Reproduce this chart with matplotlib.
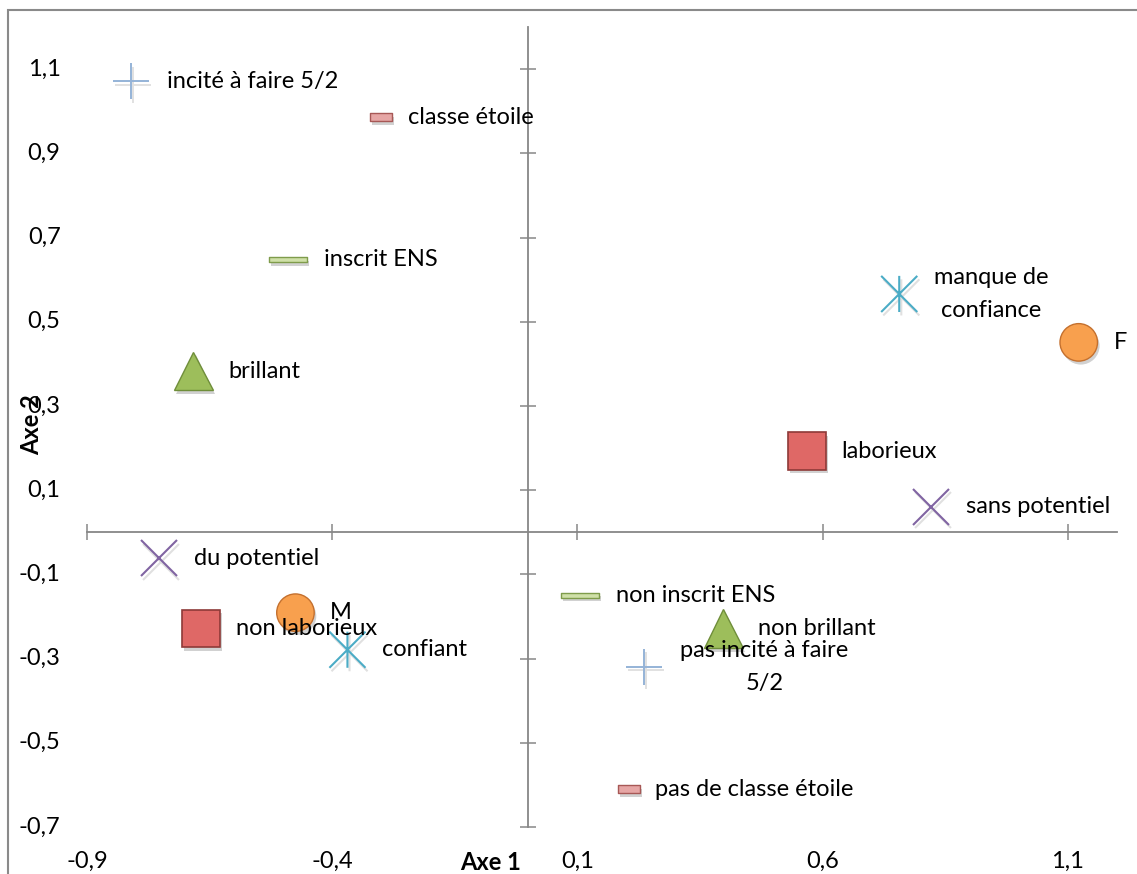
import matplotlib
matplotlib.use("Agg")
import matplotlib.pyplot as plt
import matplotlib.patheffects as pe
from matplotlib.path import Path
from matplotlib.patches import Rectangle
import numpy as np

plt.rcParams['font.family'] = ['Lato', 'DejaVu Sans']

# modalites et coordonnees sur les deux premiers axes
sexe_lab = ["F", "M"]
sexe_x = [1.122, -0.475]
sexe_y = [0.451, -0.191]

labor_lab = ["laborieux", "non laborieux"]
labor_x = [0.568, -0.668]
labor_y = [0.193, -0.229]

brill_lab = ["brillant", "non brillant"]
brill_x = [-0.683, 0.397]
brill_y = [0.383, -0.229]

pot_lab = ["du potentiel", "sans potentiel"]
pot_x = [-0.753, 0.821]
pot_y = [-0.062, 0.061]

conf_lab = ["confiant", "manque de\nconfiance"]
conf_x = [-0.369, 0.756]
conf_y = [-0.279, 0.566]

incite_lab = ["incité à faire 5/2", "pas incité à faire\n5/2"]
incite_x = [-0.810, 0.236]
incite_y = [1.071, -0.320]

etoile_lab = ["classe étoile", "pas de classe étoile"]
etoile_x = [-0.300, 0.205]
etoile_y = [0.986, -0.610]

ens_lab = ["inscrit ENS", "non inscrit ENS"]
ens_x = [-0.490, 0.105]
ens_y = [0.647, -0.150]

xticks = [-0.9, -0.4, 0.1, 0.6, 1.1]
yticks = [-0.7, -0.5, -0.3, -0.1, 0.1, 0.3, 0.5, 0.7, 0.9, 1.1]

FS = 17
W, H = 1137, 874
fig = plt.figure(figsize=(W / 100, H / 100), dpi=100)
ax = fig.add_axes([87 / W, 47 / H, 1030 / W, 800 / H])
ax.set_xlim(-0.9, 1.2)
ax.set_ylim(-0.7, 1.2)

# axes croisees en zero
for s in ["top", "right"]:
    ax.spines[s].set_visible(False)
ax.spines["left"].set_position(("data", 0))
ax.spines["bottom"].set_position(("data", 0))
for s in ["left", "bottom"]:
    ax.spines[s].set_color("#878787")
    ax.spines[s].set_linewidth(1.3)
ax.set_xticks(xticks)
ax.set_yticks(yticks)
ax.tick_params(direction="inout", length=12, width=1.1, color="#878787",
               labelbottom=False, labelleft=False)

def fmt(v):
    return ("%.1f" % v).replace(".", ",")

for t in xticks:
    ax.annotate(fmt(t), (t, 0), xycoords=("data", "axes fraction"), xytext=(0, -25),
                textcoords="offset points", ha="center", va="center", fontsize=FS)
for t in yticks:
    ax.annotate(fmt(t), (0, t), xycoords=("axes fraction", "data"), xytext=(-19, 0),
                textcoords="offset points", ha="right", va="center", fontsize=FS)

fig.text(491 / W, (H - 862) / H, "Axe 1", ha="center", va="center", fontsize=FS, fontweight="bold")
fig.text(32 / W, (H - 425) / H, "Axe 2", ha="center", va="center", fontsize=FS,
         fontweight="bold", rotation=90)

# cadre du graphique
fig.add_artist(Rectangle((8 / W, -0.1), 1.2, (H - 10) / H + 0.1, transform=fig.transFigure,
                         fill=False, edgecolor="#8a8a8a", linewidth=1.5))

star = Path([(0, -1), (0, 1), (-1, -1), (1, 1), (-1, 1), (1, -1)],
            [Path.MOVETO, Path.LINETO] * 3)
long_bar = Path([(-1, -0.13), (1, -0.13), (1, 0.13), (-1, 0.13), (-1, -0.13)], closed=True)
short_bar = Path([(-1, -0.36), (1, -0.36), (1, 0.36), (-1, 0.36), (-1, -0.36)], closed=True)

shadow = [pe.SimplePatchShadow(offset=(1.5, -2.5), shadow_rgbFace="#000000", alpha=0.18), pe.Normal()]
lshadow = [pe.SimpleLineShadow(offset=(1.5, -2.5), shadow_color="#000000", alpha=0.12), pe.Normal()]

series = [
    (sexe_lab, sexe_x, sexe_y, dict(marker="o", ms=27, mfc="#F8A04E", mec="#C4702E", mew=1.0), shadow, 25),
    (labor_lab, labor_x, labor_y, dict(marker="s", ms=27, mfc="#DF6866", mec="#8E3A38", mew=1.2), shadow, 25),
    (brill_lab, brill_x, brill_y, dict(marker="^", ms=28, mfc="#9DBE5B", mec="#6F8E3A", mew=1.0), shadow, 25),
    (pot_lab, pot_x, pot_y, dict(marker="x", ms=26, mec="#8064A2", mew=1.5), lshadow, 25),
    (conf_lab, conf_x, conf_y, dict(marker=star, ms=26, mec="#4BACC6", mew=1.5), lshadow, 25),
    (incite_lab, incite_x, incite_y, dict(marker="+", ms=26, mec="#95B3D7", mew=1.4), lshadow, 26),
    (etoile_lab, etoile_x, etoile_y, dict(marker=short_bar, ms=16, mfc="#E6A6A5", mec="#A75856", mew=1.0), shadow, 19),
    (ens_lab, ens_x, ens_y, dict(marker=long_bar, ms=27, mfc="#CFE0A8", mec="#7F9C4B", mew=1.0), shadow, 26),
]

for labs, xs, ys, style, effects, dx in series:
    ax.plot(xs, ys, linestyle="none", zorder=3, clip_on=False, path_effects=effects, **style)
    for lab, x, y in zip(labs, xs, ys):
        ax.annotate(lab, (x, y), xytext=(dx, 0), textcoords="offset points", ha="left",
                    va="center", multialignment="center", fontsize=FS, zorder=5,
                    linespacing=1.7)

fig.savefig("out.png", dpi=100)
